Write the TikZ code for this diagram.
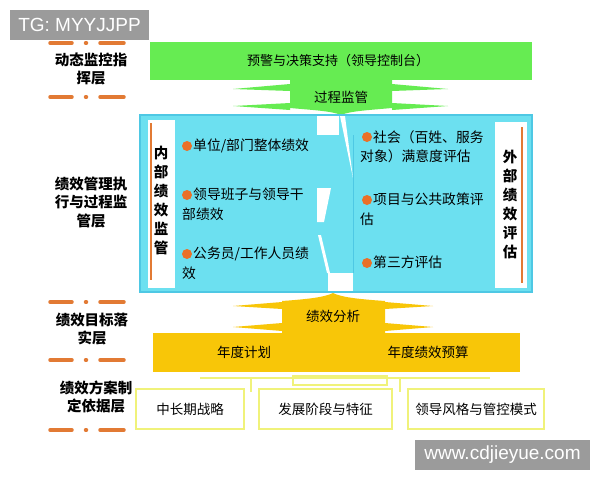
\documentclass[tikz,border=0pt]{standalone}
\usepackage{fontspec}
\setmainfont{Noto Sans CJK SC}
\newfontfamily\markfont{Liberation Sans}
\usepackage{tikz}

\definecolor{barGreen}{RGB}{102,236,82}
\definecolor{panelCyan}{RGB}{108,224,240}
\definecolor{panelEdge}{RGB}{78,200,228}
\definecolor{barGold}{RGB}{248,198,8}
\definecolor{dotOrange}{RGB}{234,112,40}
\definecolor{tierOrange}{RGB}{226,122,52}
\definecolor{boxYellow}{RGB}{240,242,122}
\definecolor{markGray}{RGB}{155,155,155}

\begin{document}
\begin{tikzpicture}[x=1pt, y=-1pt,
    lvl/.style={align=center, inner sep=0pt, font=\bfseries\fontsize{14.5}{18.5}\selectfont},
    item/.style={anchor=north west, align=left, inner sep=0pt, font=\fontsize{13.8}{19.5}\selectfont},
    dot/.style={circle, fill=dotOrange, minimum size=10pt, inner sep=0pt},
    tier/.style={draw=tierOrange, line width=3.5pt, line cap=round},
    tag/.style={align=center, inner sep=0pt, font=\bfseries\fontsize{14.5}{19}\selectfont},
    basebox/.style={draw=boxYellow, line width=2.5pt, fill=white, minimum height=40pt, inner sep=0pt, font=\fontsize{13.5}{15}\selectfont},
    stamp/.style={fill=markGray, text=white, inner sep=0pt, font=\markfont\fontsize{19}{19}\selectfont}]
    \useasboundingbox (0,0) rectangle (600,480);
    \fill[white] (0,0) rectangle (600,480);

    % Layer labels
    \node[lvl] (dynLabel) at (91,69) {动态监控指\\挥层};
    \node[lvl] (execLabel) at (91,202) {绩效管理执\\行与过程监\\管层};
    \node[lvl] (goalLabel) at (92,329) {绩效目标落\\实层};
    \node[lvl] (basisLabel) at (96,397) {绩效方案制\\定依据层};
    \foreach \y in {43,97,302,360,430}
        \draw[tier] (50,\y) -- (72,\y) (85.5,\y) -- (86.5,\y) (100,\y) -- (124,\y);

    % Top green layer
    \fill[barGreen] (150,42) rectangle (532,80);
    \node[font=\fontsize{13}{15}\selectfont] (warnBar) at (338,61) {预警与决策支持（领导控制台）};
    \fill[barGreen] (290,79) -- (392,79) -- (392,108)
        .. controls (370,110) and (350,111) .. (341,115)
        .. controls (332,111) and (312,110) .. (290,108) -- cycle;
    \fill[barGreen] (290,84) -- (233,89) -- (290,91) -- cycle;
    \fill[barGreen] (290,103) -- (233,106) -- (290,110) -- cycle;
    \fill[barGreen] (392,84) -- (448,89) -- (392,91) -- cycle;
    \fill[barGreen] (392,103) -- (448,106) -- (392,110) -- cycle;
    \node[font=\fontsize{13.5}{15}\selectfont] (supervise) at (341,97) {过程监管};

    % Cyan panel
    \filldraw[fill=panelCyan, draw=panelEdge, line width=1.5pt] (140,115) rectangle (532,292);
    \fill[white] (148,120) rectangle (175,288);
    \fill[white] (495,122) rectangle (527,288);
    \draw[tierOrange, line width=2pt] (151,123) -- (151,280);
    \draw[tierOrange, line width=2pt] (522,127) -- (522,283);
    \node[tag] (innerTag) at (161,200) {内\\部\\绩\\效\\监\\管};
    \node[tag] (outerTag) at (510,204.5) {外\\部\\绩\\效\\评\\估};

    % White split down the middle
    \fill[white] (317,116) rectangle (339,135);
    \fill[white] (340,116) -- (345,116) -- (353,178) -- cycle;
    \fill[white] (317,188) -- (331,188) -- (324,222) -- (317,222) -- cycle;
    \fill[white] (318,235) -- (321,235) -- (330,273) -- (327,273) -- cycle;
    \fill[white] (328,273) rectangle (353,291);
    \draw[panelEdge, line width=0.6pt] (353,135) -- (353,273);

    % Inner items
    \node[dot] (unitDot) at (187,146) {};
    \node[item] (unitPerf) at (182,139) {\hspace*{11pt}单位/部门整体绩效};
    \node[dot] (leadDot) at (187,195) {};
    \node[item] (leadPerf) at (182,188) {\hspace*{11pt}领导班子与领导干\\部绩效};
    \node[dot] (staffDot) at (187,254) {};
    \node[item] (staffPerf) at (182,247) {\hspace*{11pt}公务员/工作人员绩\\效};

    % Outer items
    \node[dot] (publicDot) at (367,137) {};
    \node[item] (publicEval) at (360,130) {\hspace*{13pt}社会（百姓、服务\\对象）满意度评估};
    \node[dot] (policyDot) at (367,200) {};
    \node[item] (policyEval) at (360,193) {\hspace*{13pt}项目与公共政策评\\估};
    \node[dot] (thirdDot) at (367,263) {};
    \node[item] (thirdEval) at (360,256) {\hspace*{13pt}第三方评估};

    % Gold layer
    \fill[barGold] (153,333) rectangle (520,372);
    \fill[barGold] (282,334) -- (282,301)
        .. controls (310,299) and (325,297) .. (333,293)
        .. controls (341,297) and (356,299) .. (385,301) -- (385,334) -- cycle;
    \fill[barGold] (282,302) -- (233,306) -- (282,309) -- cycle;
    \fill[barGold] (282,323) -- (233,327) -- (282,331) -- cycle;
    \fill[barGold] (385,302) -- (433,306) -- (385,309) -- cycle;
    \fill[barGold] (385,323) -- (433,327) -- (385,331) -- cycle;
    \node[font=\fontsize{13.5}{15}\selectfont] (analysis) at (333,316) {绩效分析};
    \node[font=\fontsize{13.5}{15}\selectfont] (yearPlan) at (244,352) {年度计划};
    \node[font=\fontsize{13.5}{15}\selectfont] (yearBudget) at (428,352) {年度绩效预算};

    % Basis boxes
    \draw[boxYellow, line width=2pt] (200,378) -- (490,378);
    \draw[boxYellow, line width=1.5pt] (293,376) rectangle (387,385);
    \draw[boxYellow, line width=1.5pt] (251,378) -- (251,392) (400,378) -- (400,392);
    \node[basebox, minimum width=108pt] (longTerm) at (190,409) {中长期战略};
    \node[basebox, minimum width=133pt] (stage) at (325.5,409) {发展阶段与特征};
    \node[basebox, minimum width=136pt] (leadStyle) at (476,409) {领导风格与管控模式};

    % Watermarks
    \node[stamp, minimum width=139pt, minimum height=30pt] (topMark) at (79.5,25) {TG: MYYJJPP};
    \node[stamp, minimum width=175pt, minimum height=30pt] (siteMark) at (502.5,455) {www.cdjieyue.com};
\end{tikzpicture}
\end{document}
